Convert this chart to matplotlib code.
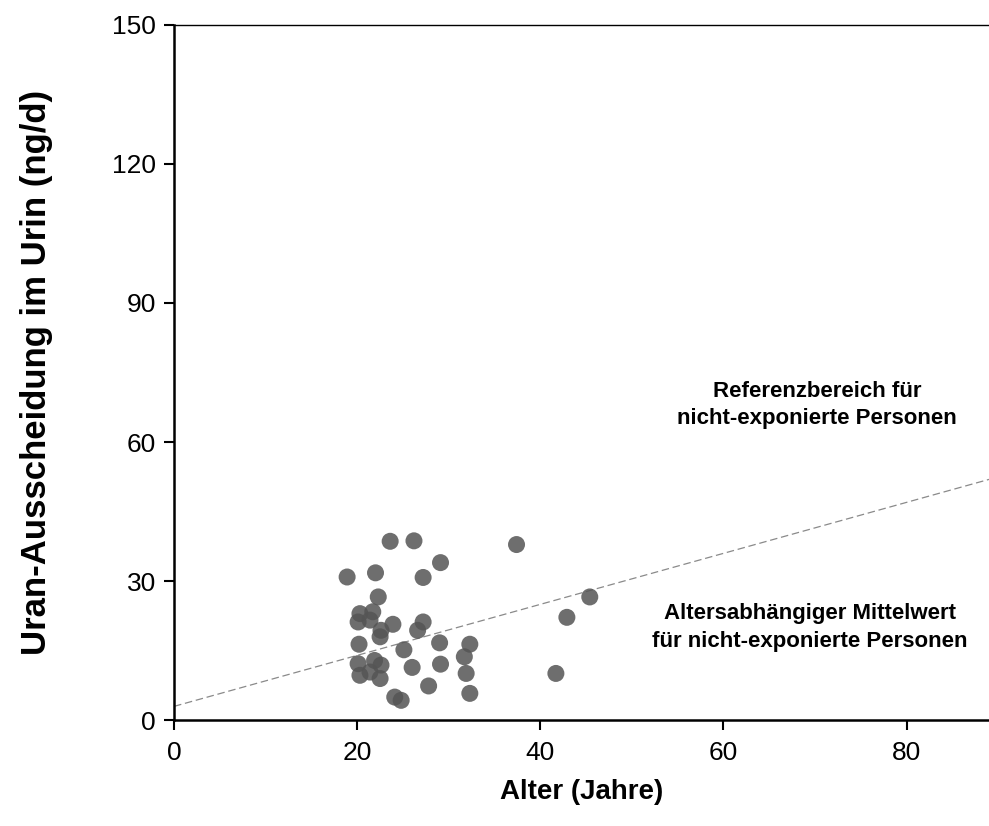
import numpy as np
import matplotlib.pyplot as plt

# Alter (Jahre) / Uran-Ausscheidung (ng/d)
alter = [23.6, 26.2, 37.4, 29.1, 18.9, 22.0, 27.2, 22.3, 45.4, 42.9,
         20.3, 21.7, 20.1, 21.4, 23.9, 22.6, 22.5, 27.2, 26.6,
         20.2, 25.1, 29.0, 32.3, 31.7,
         20.1, 21.9, 22.6, 20.3, 21.4, 22.5, 26.0, 29.1, 31.9, 41.7,
         27.8, 32.3, 24.1, 24.8]
uran = [38.6, 38.7, 37.9, 34.0, 30.9, 31.8, 30.8, 26.6, 26.6, 22.2,
        23.0, 23.4, 21.2, 21.6, 20.7, 19.4, 18.0, 21.2, 19.4,
        16.4, 15.2, 16.7, 16.4, 13.7,
        12.2, 12.9, 11.9, 9.7, 10.4, 9.0, 11.4, 12.1, 10.1, 10.1,
        7.4, 5.8, 5.0, 4.3]

# altersabhaengiger Mittelwert: a + b*Alter
mw_a = 3.0
mw_b = 0.55
mw_x = [0, 89]

xticks = [0, 20, 40, 60, 80]
yticks = [0, 30, 60, 90, 120, 150]

font = ['Liberation Sans', 'DejaVu Sans']

fig = plt.figure(figsize=(9.89, 8.26), dpi=100)
ax = fig.add_axes([0.176, 0.128, 0.824, 0.842])

mw_y = [mw_a + mw_b * x for x in mw_x]
ax.plot(mw_x, mw_y, color='#8a8a8a', lw=0.9, ls=(0, (6, 3)))

ax.scatter(alter, uran, s=150, color='#555555', alpha=0.85, edgecolors='none', zorder=3)

ax.text(70.2, 68, 'Referenzbereich für\nnicht-exponierte Personen', ha='center', va='center',
        fontsize=16, fontweight='bold', family=font, linespacing=1.4)
ax.text(69.4, 20, 'Altersabhängiger Mittelwert\nfür nicht-exponierte Personen', ha='center', va='center',
        fontsize=16, fontweight='bold', family=font, linespacing=1.45)

ax.set_xlim(0, 89)
ax.set_ylim(0, 150)
ax.set_xticks(xticks)
ax.set_yticks(yticks)
for lab in ax.get_xticklabels() + ax.get_yticklabels():
    lab.set_family(font)
    lab.set_fontsize(19)
ax.tick_params(direction='out', length=7, width=1.5)
ax.tick_params(axis='x', pad=8)
ax.tick_params(axis='y', pad=6)

ax.spines['right'].set_visible(False)
ax.spines['left'].set_linewidth(1.8)
ax.spines['bottom'].set_linewidth(1.8)
ax.spines['top'].set_linewidth(1.0)

ax.set_xlabel('Alter (Jahre)', fontsize=20, fontweight='bold', family=font)
ax.xaxis.set_label_coords(0.5, -0.085)
ax.set_ylabel('Uran-Ausscheidung im Urin (ng/d)', fontsize=25, fontweight='bold', family=font)
ax.yaxis.set_label_coords(-0.149, 0.5)

fig.savefig('out.png', dpi=100)
